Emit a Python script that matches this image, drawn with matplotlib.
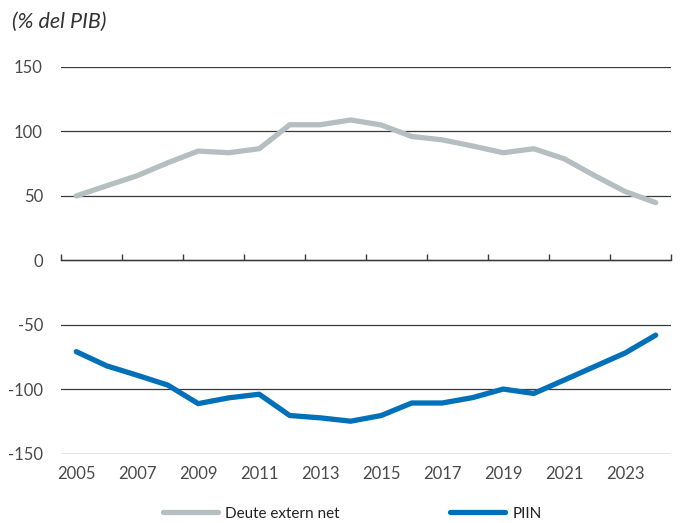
import numpy as np
import matplotlib
matplotlib.use("Agg")
import matplotlib.pyplot as plt

# data (% of GDP)
years = list(range(2005, 2025))
deute_extern_net = [50, 57.9, 65.7, 75.7, 84.8, 83.5, 86.6, 105.2, 105.2, 108.9,
                    105, 96.1, 93.5, 88.7, 83.5, 86.6, 78.8, 65.7, 53.4, 44.8]
piin = [-70.7, -81.7, -89, -96.6, -111, -106.5, -103.7, -120.2, -122, -124.6,
        -120.2, -110.5, -110.5, -106.3, -99.7, -103.1, -92.7, -82.2, -71.7, -57.9]
yticks = [-150, -100, -50, 0, 50, 100, 150]
series_names = ["Deute extern net", "PIIN"]

grey = "#b5bfc2"
blue = "#0071b9"
txt = "#4a4a4a"
gridc = "#3a3a3a"

plt.rcParams["font.family"] = ["Lato", "DejaVu Sans"]
plt.rcParams["axes.unicode_minus"] = False

fig = plt.figure(figsize=(6.8, 5.23), dpi=100)
ax = fig.add_axes([0.0897, 0.132, 0.897, 0.74])

ax.plot(years, deute_extern_net, color=grey, lw=3.8, solid_capstyle="round",
        solid_joinstyle="round", label=series_names[0], zorder=3)
ax.plot(years, piin, color=blue, lw=3.8, solid_capstyle="round",
        solid_joinstyle="round", label=series_names[1], zorder=3)

ax.set_xlim(years[0] - 0.5, years[-1] + 0.5)
ax.set_ylim(yticks[0], yticks[-1])
ax.set_yticks(yticks)
ax.set_xticks(years[::2])
ax.tick_params(axis="both", length=0, labelsize=12, colors=txt)
ax.tick_params(axis="y", pad=13)
ax.tick_params(axis="x", pad=9)
ax.grid(axis="y", color=gridc, lw=0.9)
ax.set_axisbelow(True)
for s in ax.spines.values():
    s.set_visible(False)

# zero axis with small upward ticks at every second category boundary
sec = ax.secondary_xaxis(0.5)
bounds = [y - 0.5 for y in years[::2]] + [years[-1] + 0.5]
sec.set_xticks(bounds)
sec.tick_params(axis="x", direction="out", length=4, width=1.0, color=gridc,
                labeltop=False, labelbottom=False)
sec.spines["top"].set_color(gridc)
sec.spines["top"].set_linewidth(1.0)
sec.spines["bottom"].set_visible(False)

fig.text(0.018, 0.958, "(% del PIB)", fontsize=15.5, style="italic",
         color="#333333", va="center", ha="left")

fig.legend(loc="center", bbox_to_anchor=(0.518, 0.018), ncol=2, frameon=False,
           fontsize=11, handlelength=3.6, handletextpad=0.5, columnspacing=7.2,
           labelcolor="#222222")

fig.savefig("out.png", dpi=100)
